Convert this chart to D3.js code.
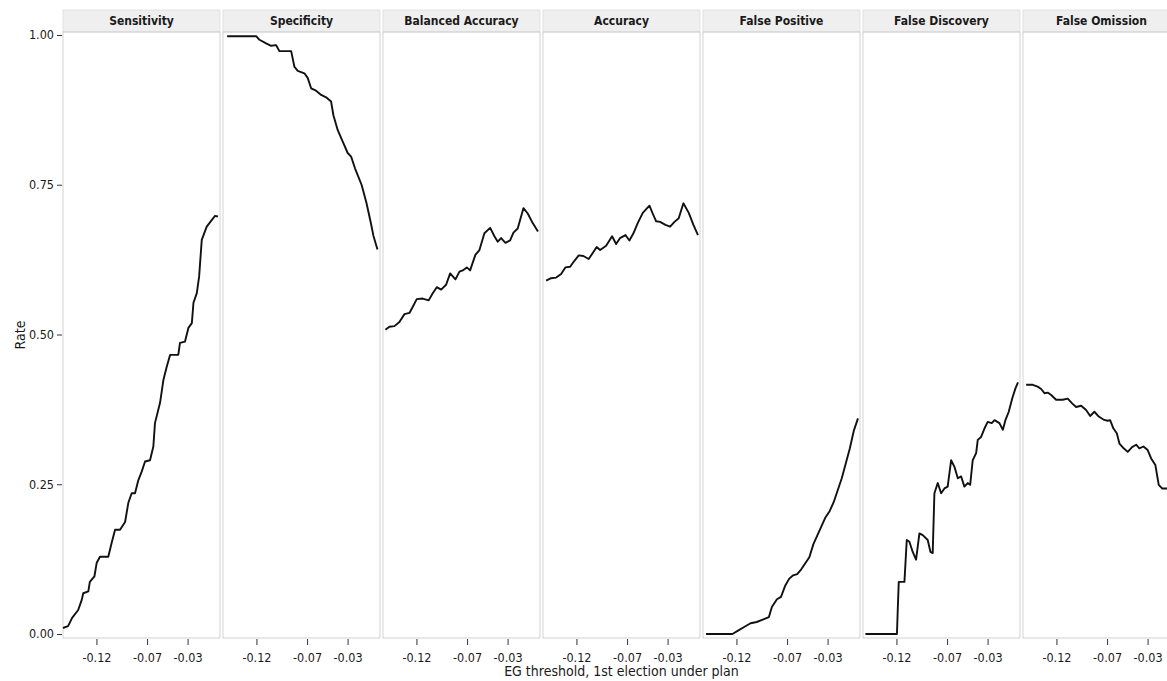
<!DOCTYPE html>
<html>
<head>
<meta charset="utf-8">
<script src="https://cdn.jsdelivr.net/npm/d3@7"></script>
<style>
  body { margin: 0; background: #fff; }
  text { font-family: "Liberation Sans Narrow", "DejaVu Sans Condensed", sans-serif; fill: #1a1a1a; }
</style>
</head>
<body>
<div id="root"></div>
<script>
var metrics = ['Sensitivity', 'Specificity', 'Balanced Accuracy', 'Accuracy',
  'False Positive', 'False Discovery', 'False Omission'];
var xTicks = [-0.12, -0.07, -0.03];
var yTicks = [0, 0.25, 0.5, 0.75, 1];

// [EG threshold, rate]
var sensitivity = [[-0.153,0.010],[-0.148,0.013],[-0.144,0.027],[-0.138,0.040],[-0.1345,0.057],
  [-0.133,0.068],[-0.128,0.071],[-0.1265,0.087],[-0.122,0.096],[-0.1197,0.119],[-0.1165,0.129],
  [-0.1083,0.129],[-0.105,0.152],[-0.1016,0.174],[-0.0967,0.174],[-0.0917,0.187],[-0.0885,0.219],
  [-0.0852,0.235],[-0.0819,0.235],[-0.0786,0.257],[-0.0753,0.271],[-0.072,0.288],[-0.0671,0.290],
  [-0.0638,0.313],[-0.0622,0.352],[-0.0572,0.386],[-0.0539,0.424],[-0.0506,0.446],[-0.0472,0.466],
  [-0.0392,0.466],[-0.0375,0.486],[-0.0326,0.488],[-0.0292,0.511],[-0.0258,0.519],[-0.0242,0.553],
  [-0.0209,0.569],[-0.0186,0.597],[-0.016,0.658],[-0.0111,0.680],[-0.0062,0.691],[-0.0029,0.698],
  [0.0,0.697]];
var specificity = [[-0.1489,0.998],[-0.1203,0.998],[-0.117,0.992],[-0.1104,0.986],[-0.1055,0.982],
  [-0.1005,0.983],[-0.0973,0.973],[-0.0857,0.973],[-0.0825,0.947],[-0.0792,0.940],[-0.0726,0.936],
  [-0.0693,0.928],[-0.066,0.911],[-0.0611,0.907],[-0.0561,0.900],[-0.0512,0.896],[-0.0463,0.889],
  [-0.044,0.866],[-0.0397,0.841],[-0.0348,0.822],[-0.0299,0.803],[-0.0265,0.797],[-0.0226,0.777],
  [-0.0162,0.750],[-0.0114,0.720],[-0.0075,0.690],[-0.0045,0.665],[-0.0005,0.642]];
var balancedAccuracy = [[-0.1506,0.508],[-0.1467,0.513],[-0.1417,0.514],[-0.1368,0.521],
  [-0.1318,0.534],[-0.1269,0.536],[-0.1237,0.546],[-0.1197,0.559],[-0.1138,0.560],[-0.1079,0.557],
  [-0.1039,0.569],[-0.0999,0.579],[-0.0956,0.575],[-0.0907,0.583],[-0.0867,0.602],[-0.0815,0.592],
  [-0.0775,0.605],[-0.0743,0.607],[-0.0703,0.612],[-0.067,0.607],[-0.0618,0.633],[-0.0578,0.641],
  [-0.0529,0.669],[-0.0472,0.678],[-0.043,0.664],[-0.0397,0.655],[-0.0364,0.661],[-0.0321,0.653],
  [-0.0275,0.657],[-0.0242,0.670],[-0.02,0.677],[-0.0143,0.711],[-0.0101,0.702],[-0.0052,0.686],
  [0.0,0.672]];
var accuracy = [[-0.1499,0.590],[-0.145,0.594],[-0.14,0.595],[-0.1351,0.601],[-0.1309,0.612],
  [-0.1262,0.613],[-0.122,0.623],[-0.1177,0.632],[-0.1131,0.631],[-0.1079,0.626],[-0.1039,0.636],
  [-0.1,0.646],[-0.0966,0.641],[-0.0907,0.648],[-0.0874,0.657],[-0.0848,0.664],[-0.0808,0.651],
  [-0.0769,0.661],[-0.0716,0.666],[-0.0677,0.657],[-0.0637,0.669],[-0.0595,0.686],[-0.0545,0.703],
  [-0.0479,0.715],[-0.0447,0.702],[-0.0413,0.689],[-0.0374,0.688],[-0.0321,0.683],[-0.0275,0.680],
  [-0.0232,0.688],[-0.019,0.694],[-0.0144,0.719],[-0.0091,0.703],[-0.0045,0.683],[0.0,0.666]];
var falsePositive = [[-0.150,0.0],[-0.124,0.0],[-0.118,0.006],[-0.112,0.012],[-0.106,0.018],
  [-0.100,0.020],[-0.094,0.024],[-0.088,0.028],[-0.085,0.045],[-0.080,0.058],[-0.076,0.062],
  [-0.072,0.080],[-0.068,0.092],[-0.064,0.098],[-0.060,0.100],[-0.056,0.108],[-0.052,0.118],
  [-0.048,0.128],[-0.044,0.150],[-0.040,0.165],[-0.036,0.180],[-0.032,0.195],[-0.028,0.205],
  [-0.024,0.220],[-0.020,0.240],[-0.016,0.260],[-0.012,0.285],[-0.008,0.310],[-0.004,0.340],
  [0.0,0.360]];
var falseDiscovery = [[-0.1506,0.0],[-0.1195,0.0],[-0.1187,0.040],[-0.1177,0.087],[-0.1121,0.087],
  [-0.1098,0.157],[-0.1072,0.154],[-0.1039,0.137],[-0.1006,0.124],[-0.0973,0.168],[-0.094,0.165],
  [-0.0891,0.157],[-0.0864,0.137],[-0.0842,0.135],[-0.0825,0.235],[-0.0792,0.252],[-0.0759,0.235],
  [-0.0726,0.243],[-0.0694,0.246],[-0.066,0.290],[-0.0627,0.279],[-0.0594,0.260],[-0.0561,0.263],
  [-0.0529,0.246],[-0.0496,0.252],[-0.0472,0.249],[-0.0447,0.290],[-0.0413,0.302],[-0.0397,0.324],
  [-0.0364,0.329],[-0.0331,0.343],[-0.0299,0.354],[-0.0259,0.352],[-0.0232,0.357],[-0.0183,0.352],
  [-0.0149,0.341],[-0.0124,0.357],[-0.0091,0.371],[-0.0057,0.393],[-0.0025,0.410],[0.0,0.420]];
var falseOmission = [[-0.1499,0.416],[-0.1434,0.416],[-0.1385,0.413],[-0.1351,0.409],[-0.1318,0.402],
  [-0.1286,0.403],[-0.1252,0.399],[-0.1203,0.391],[-0.1138,0.391],[-0.1088,0.393],[-0.1045,0.385],
  [-0.1006,0.379],[-0.0956,0.381],[-0.0907,0.374],[-0.0867,0.364],[-0.0825,0.371],[-0.0782,0.363],
  [-0.0736,0.358],[-0.0694,0.356],[-0.067,0.357],[-0.0637,0.343],[-0.0604,0.335],[-0.0578,0.318],
  [-0.0536,0.310],[-0.0496,0.304],[-0.0453,0.312],[-0.0413,0.316],[-0.0381,0.310],[-0.0341,0.313],
  [-0.0299,0.307],[-0.0265,0.293],[-0.0223,0.282],[-0.019,0.249],[-0.0157,0.243],[-0.0117,0.243],
  [-0.006,0.242]];

var series = {
  'Sensitivity': sensitivity,
  'Specificity': specificity,
  'Balanced Accuracy': balancedAccuracy,
  'Accuracy': accuracy,
  'False Positive': falsePositive,
  'False Discovery': falseDiscovery,
  'False Omission': falseOmission
};

var width = 1167, height = 681;
var panelTop = 32, panelBottom = 638;

var svg = d3.select('#root')
  .append('svg')
    .attr('width', width)
    .attr('height', height);

// one band per facet, 3px gap between panels
var facet = d3.scaleBand()
  .domain(metrics)
  .range([63, 1180])
  .paddingInner(0.01875);

var x = d3.scaleLinear()
  .domain([-0.153, 0.002])
  .range([0, facet.bandwidth()]);

var y = d3.scaleLinear()
  .domain([-0.0067, 1.005])
  .range([panelBottom, panelTop]);

var line = d3.line()
  .x(d => x(d[0]))
  .y(d => y(d[1]));

var panels = svg.selectAll('g.panel')
  .data(metrics)
  .enter()
  .append('g')
    .attr('class', 'panel')
    .attr('transform', d => 'translate(' + facet(d) + ',0)');

// strip
panels.append('rect')
  .attr('x', 0)
  .attr('y', 10)
  .attr('width', facet.bandwidth())
  .attr('height', panelTop - 10)
  .attr('fill', '#efefef')
  .attr('stroke', '#d2d2d2')
  .attr('stroke-width', 0.6);

panels.append('text')
  .attr('x', facet.bandwidth() / 2)
  .attr('y', 25)
  .attr('text-anchor', 'middle')
  .style('font-size', '12px')
  .style('font-weight', '600')
  .text(d => d);

// panel border
panels.append('rect')
  .attr('x', 0)
  .attr('y', panelTop)
  .attr('width', facet.bandwidth())
  .attr('height', panelBottom - panelTop)
  .attr('fill', 'none')
  .attr('stroke', '#c8c8c8')
  .attr('stroke-width', 0.8);

panels.append('path')
  .attr('d', d => line(series[d]))
  .attr('fill', 'none')
  .attr('stroke', '#111')
  .attr('stroke-width', 1.9)
  .attr('stroke-linejoin', 'round');

// x axis under every panel
panels.append('g')
  .attr('transform', 'translate(0,' + (panelBottom + 1) + ')')
  .call(d3.axisBottom(x)
    .tickValues(xTicks)
    .tickFormat(d => d.toFixed(2))
    .tickSize(6)
    .tickPadding(8))
  .call(g => g.select('.domain').remove())
  .call(g => g.selectAll('line').attr('stroke', '#333'))
  .call(g => g.selectAll('text').style('font-size', '12.5px').attr('fill', '#1a1a1a'));

// y axis on the first panel only
svg.append('g')
  .attr('transform', 'translate(62,0)')
  .call(d3.axisLeft(y)
    .tickValues(yTicks)
    .tickFormat(d => d.toFixed(2))
    .tickSize(5)
    .tickPadding(3))
  .call(g => g.select('.domain').remove())
  .call(g => g.selectAll('line').attr('stroke', '#333'))
  .call(g => g.selectAll('text').style('font-size', '12.5px').attr('fill', '#1a1a1a'));

svg.append('text')
  .attr('x', (63 + 1180) / 2)
  .attr('y', 676)
  .attr('text-anchor', 'middle')
  .style('font-size', '14px')
  .text('EG threshold, 1st election under plan');

svg.append('text')
  .attr('transform', 'translate(25,' + (panelTop + panelBottom) / 2 + ') rotate(-90)')
  .attr('text-anchor', 'middle')
  .style('font-size', '14px')
  .text('Rate');
</script>
</body>
</html>
